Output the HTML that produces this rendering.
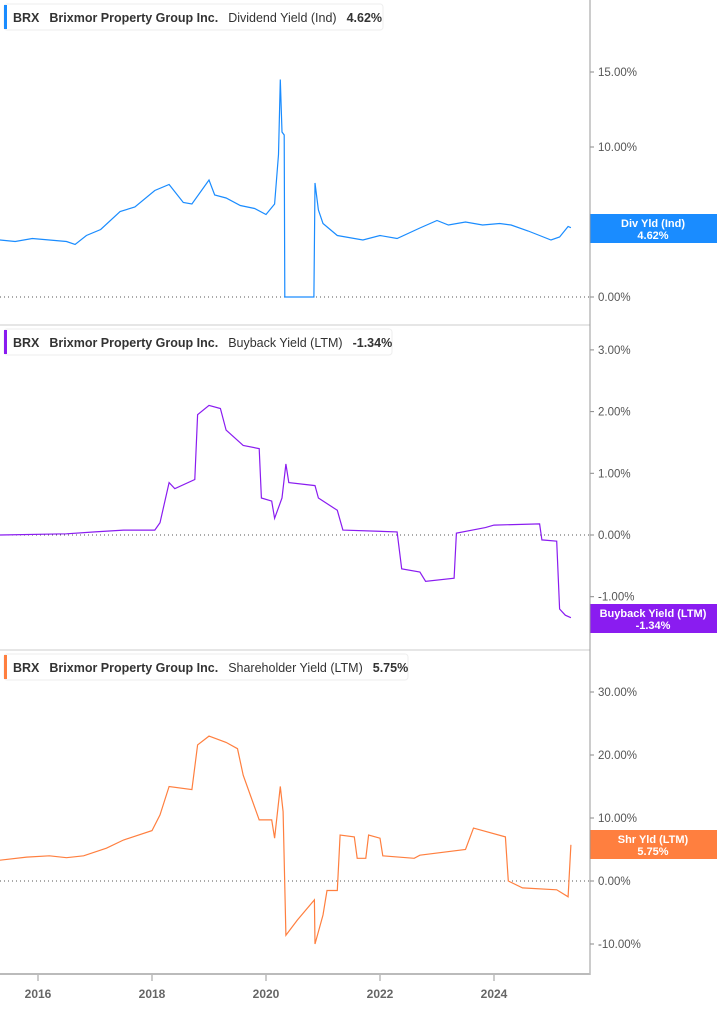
<!DOCTYPE html>
<html><head><meta charset="utf-8"><style>
body{margin:0;background:#fff;font-family:"Liberation Sans",sans-serif}
svg text{font-family:"Liberation Sans",sans-serif}
</style></head><body>
<svg id="c" width="717" height="1005" xmlns="http://www.w3.org/2000/svg"></svg>
<script>
const xYears=[2016,2018,2020,2022,2024];
const divDates=[2015.33,2015.6,2015.9,2016.2,2016.5,2016.65,2016.85,2017.1,2017.44,2017.7,2018.05,2018.3,2018.55,2018.7,2019.0,2019.1,2019.3,2019.55,2019.8,2020.0,2020.15,2020.22,2020.25,2020.28,2020.32,2020.33,2020.84,2020.86,2020.92,2021.0,2021.25,2021.4,2021.7,2022.0,2022.3,2022.7,2023.0,2023.2,2023.5,2023.8,2024.1,2024.3,2024.6,2024.8,2025.0,2025.15,2025.3,2025.35];
const divVals=[3.8,3.7,3.9,3.8,3.7,3.5,4.1,4.5,5.7,6.0,7.1,7.5,6.3,6.2,7.8,6.8,6.6,6.1,5.9,5.5,6.2,9.5,14.5,11.0,10.8,0,0,7.6,5.8,4.9,4.1,4.0,3.8,4.1,3.9,4.6,5.1,4.8,5.0,4.8,4.9,4.8,4.4,4.1,3.8,4.0,4.7,4.62];
const bbDates=[2015.33,2016.5,2017.0,2017.5,2018.05,2018.14,2018.3,2018.4,2018.75,2018.8,2019.0,2019.2,2019.3,2019.6,2019.88,2019.92,2020.1,2020.15,2020.28,2020.35,2020.4,2020.86,2020.92,2021.25,2021.35,2022.3,2022.38,2022.7,2022.8,2023.3,2023.34,2023.85,2024.0,2024.8,2024.84,2025.1,2025.15,2025.25,2025.35];
const bbVals=[0,0.02,0.05,0.08,0.08,0.2,0.85,0.75,0.9,1.95,2.1,2.05,1.7,1.45,1.4,0.6,0.55,0.27,0.6,1.15,0.85,0.8,0.6,0.4,0.08,0.05,-0.55,-0.6,-0.75,-0.7,0.03,0.12,0.16,0.18,-0.08,-0.1,-1.2,-1.3,-1.34];
const shDates=[2015.33,2015.8,2016.2,2016.5,2016.8,2017.2,2017.5,2018.0,2018.14,2018.3,2018.7,2018.8,2019.0,2019.3,2019.5,2019.6,2019.88,2020.1,2020.15,2020.25,2020.3,2020.35,2020.55,2020.85,2020.86,2021.0,2021.07,2021.25,2021.3,2021.55,2021.6,2021.75,2021.8,2022.0,2022.05,2022.6,2022.7,2023.5,2023.64,2024.2,2024.25,2024.5,2025.1,2025.3,2025.35];
const shVals=[3.3,3.8,4.0,3.7,4.0,5.2,6.5,8.0,10.5,15.0,14.5,21.6,23.0,22.0,21.0,16.8,9.7,9.7,6.8,15.0,11.0,-8.6,-6.2,-3.0,-10.0,-5.4,-1.5,-1.5,7.3,7.0,3.6,3.6,7.3,6.8,4.0,3.6,4.1,5.0,8.4,7.0,0,-1.1,-1.4,-2.5,5.75];
const p1Ticks=[0,5,10,15], p2Ticks=[-1,0,1,2,3], p3Ticks=[-10,0,10,20,30];

const svg=document.getElementById('c'), NS='http://www.w3.org/2000/svg';
function mk(t,a,p){const e=document.createElementNS(NS,t);for(const k in a)e.setAttribute(k,a[k]);(p||svg).appendChild(e);return e;}
const xs=y=>38+(y-2016)*57;
const AX=590;
function panel(o){
  const g=mk('g',{});
  
  
  const ys=v=>o.zero-v*o.k;
  o.ticks.forEach(t=>{
    const tl=mk('text',{x:AX+8,y:ys(t)+4,'font-size':11.5,fill:'#555'},g);
    tl.textContent=t.toFixed(2)+'%';
    
    
    mk('line',{x1:AX,x2:AX+4,y1:ys(t),y2:ys(t),stroke:'#888'},g);
  });
  mk('line',{x1:0,x2:AX,y1:o.zero,y2:o.zero,stroke:'#555','stroke-dasharray':'1,3'},g);
  let d=o.dates.map((t,i)=>(i?'L':'M')+xs(t).toFixed(1)+','+ys(o.vals[i]).toFixed(1)).join('');
  const p=mk('path',{d:d,fill:'none',stroke:o.color,'stroke-width':1.2},g);
  
  
  const h=mk('g',{},g);
  
  
  mk('rect',{x:4,y:o.top+4,width:o.hw,height:26,rx:3,fill:'#fff',stroke:'#eee'},h);
  mk('rect',{x:4,y:o.top+5,width:3,height:24,fill:o.color},h);
  const tx=mk('text',{x:13,y:o.top+22,'font-size':12.5,'font-weight':'bold',fill:'#333'},h);
  tx.innerHTML='BRX<tspan dx="10">Brixmor Property Group Inc.</tspan><tspan dx="10" font-weight="normal">'+o.title+'</tspan><tspan dx="10">'+o.last+'</tspan>';
  const b=mk('g',{},g);
  
  
  mk('rect',{x:AX,y:o.by,width:127,height:29,fill:o.color},b);
  const t1=mk('text',{x:653,y:o.by+13,'font-size':11,'font-weight':'bold',fill:'#fff','text-anchor':'middle'},b);t1.textContent=o.badge;
  const t2=mk('text',{x:653,y:o.by+25,'font-size':11,'font-weight':'bold',fill:'#fff','text-anchor':'middle'},b);t2.textContent=o.last;
}
panel({name:'dividend-yield',top:0,zero:297,k:15,ticks:p1Ticks,dates:divDates,vals:divVals,color:'#1a8cff',title:'Dividend Yield (Ind)',last:'4.62%',badge:'Div Yld (Ind)',by:214,hw:379});
panel({name:'buyback-yield',top:325,zero:535,k:61.7,ticks:p2Ticks,dates:bbDates,vals:bbVals,color:'#8a1cf0',title:'Buyback Yield (LTM)',last:'-1.34%',badge:'Buyback Yield (LTM)',by:604,hw:388});
panel({name:'shareholder-yield',top:650,zero:881,k:6.3,ticks:p3Ticks,dates:shDates,vals:shVals,color:'#ff7f3f',title:'Shareholder Yield (LTM)',last:'5.75%',badge:'Shr Yld (LTM)',by:830,hw:404});
mk('line',{x1:0,x2:AX,y1:325,y2:325,stroke:'#ccc'});
mk('line',{x1:0,x2:AX,y1:650,y2:650,stroke:'#ccc'});
mk('line',{x1:AX,x2:AX,y1:0,y2:975,stroke:'#999'});
mk('line',{x1:0,x2:AX,y1:974,y2:974,stroke:'#bbb','stroke-width':2});
xYears.forEach(y=>{
  mk('line',{x1:xs(y),x2:xs(y),y1:975,y2:981,stroke:'#999'});
  const t=mk('text',{x:xs(y),y:998,'font-size':12,'font-weight':'bold',fill:'#666','text-anchor':'middle'});
  t.textContent=y;
  
  
});
</script>
</body></html>
